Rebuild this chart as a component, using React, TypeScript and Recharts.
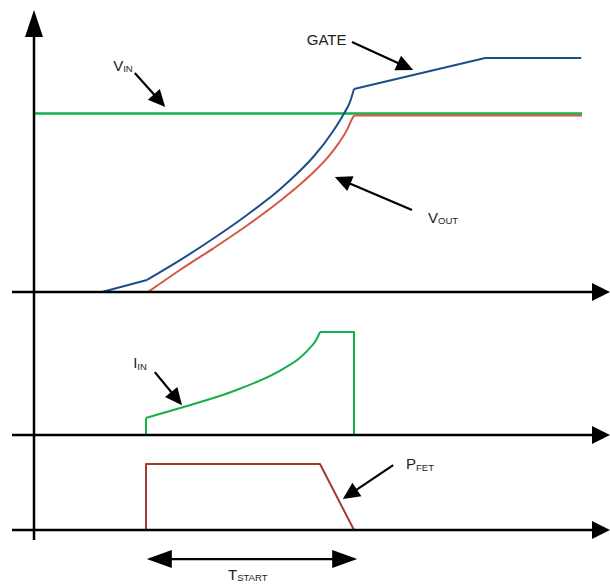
import { ComposedChart, Line, XAxis, YAxis, ReferenceLine, ReferenceDot } from "recharts";

// time in arbitrary units; the soft start runs from t≈14 to t≈40
const vinData = [
  { t: 0, v: 12 },
  { t: 68.5, v: 12 },
];

// gate: slow pre-ramp, curved rise, then linear tail and plateau
const gatePre = [
  { t: 8.5, v: 0 },
  { t: 14.125, v: 0.81 },
];
const gateRise = [
  { t: 14.125, v: 0.81 },
  { t: 18.25, v: 2.14 },
  { t: 22.375, v: 3.58 },
  { t: 26.625, v: 5.18 },
  { t: 30.75, v: 6.91 },
  { t: 33.25, v: 8.15 },
  { t: 34.875, v: 9.06 },
  { t: 37.375, v: 10.81 },
  { t: 38.625, v: 11.89 },
  { t: 39.5, v: 12.78 },
  { t: 40, v: 13.65 },
];
const gateTail = [
  { t: 40, v: 13.65 },
  { t: 56.4, v: 15.73 },
  { t: 68.4, v: 15.73 },
];

const voutRise = [
  { t: 14.25, v: 0 },
  { t: 18.25, v: 1.48 },
  { t: 22.375, v: 2.92 },
  { t: 26.625, v: 4.47 },
  { t: 30.75, v: 6.12 },
  { t: 33.25, v: 7.22 },
  { t: 35.125, v: 8.15 },
  { t: 36.75, v: 9.06 },
  { t: 38, v: 9.94 },
  { t: 39.25, v: 11.03 },
  { t: 39.625, v: 11.5 },
  { t: 40, v: 11.87 },
];
const voutTail = [
  { t: 40, v: 11.87 },
  { t: 68.5, v: 11.87 },
];

const iinStep = [
  { t: 14, i: 0 },
  { t: 14, i: 0.33 },
];
const iinRamp = [
  { t: 14, i: 0.33 },
  { t: 18.6, i: 0.54 },
  { t: 24.9, i: 0.85 },
  { t: 31.1, i: 1.28 },
  { t: 33.25, i: 1.5 },
  { t: 34.5, i: 1.69 },
  { t: 35.25, i: 1.84 },
  { t: 35.75, i: 2.0 },
];
const iinTail = [
  { t: 35.75, i: 2.0 },
  { t: 40, i: 2.0 },
  { t: 40, i: 0 },
];

const pfetData = [
  { t: 14, p: 0 },
  { t: 14, p: 3 },
  { t: 35.75, p: 3 },
  { t: 40, p: 0 },
];

// annotation text and pointer arrows, in the units of each panel
const labels = [
  { main: "GATE", sub: "", axis: "v", at: [34.1, 16.6], from: [39.75, 16.81], to: [47.4, 14.92] },
  { main: "V", sub: "IN", axis: "v", at: [9.9, 14.86], from: [12.6, 14.72], to: [16.4, 12.44] },
  { main: "V", sub: "OUT", axis: "v", at: [49.25, 4.64], from: [47.25, 5.51], to: [37.6, 7.73] },
  { main: "I", sub: "IN", axis: "i", at: [12.4, 1.3], from: [15.1, 1.22], to: [18.5, 0.58] },
  { main: "P", sub: "FET", axis: "p", at: [46.5, 2.77], from: [44.9, 2.95], to: [38.6, 1.41] },
];

const tstart = { from: 14.1, to: 40.4, y: -1.32, labelT: 24.25, labelY: -2.27 };

const W = 610;
const H = 585;
const FONT = '"Liberation Sans", Arial, sans-serif';

const panelDomain = (base: number, ppu: number): [number, number] => [-(H - base) / ppu, base / ppu];

const arrowShape =
  (head: number, half: number, width: number, both = false) =>
  (props: any) => {
    const x1 = Number(props.x1);
    const y1 = Number(props.y1);
    const x2 = Number(props.x2);
    const y2 = Number(props.y2);
    const len = Math.hypot(x2 - x1, y2 - y1) || 1;
    const ux = (x2 - x1) / len;
    const uy = (y2 - y1) / len;
    const px = -uy;
    const py = ux;
    const tri = (tx: number, ty: number, dx: number, dy: number) => {
      const bx = tx - dx * head;
      const by = ty - dy * head;
      return `${tx},${ty} ${bx + px * half},${by + py * half} ${bx - px * half},${by - py * half}`;
    };
    const sx = both ? x1 + ux * (head - 2) : x1;
    const sy = both ? y1 + uy * (head - 2) : y1;
    return (
      <g>
        <line x1={sx} y1={sy} x2={x2 - ux * (head - 2)} y2={y2 - uy * (head - 2)} stroke="#000" strokeWidth={width} />
        <polygon points={tri(x2, y2, ux, uy)} fill="#000" />
        {both && <polygon points={tri(x1, y1, -ux, -uy)} fill="#000" />}
      </g>
    );
  };

const textShape = (main: string, sub: string) => (props: any) => (
  <text x={props.cx} y={props.cy} fontFamily={FONT} fontSize={15} fill="#222">
    <tspan>{main}</tspan>
    {sub && (
      <tspan fontSize={9.5} dy={1.5}>
        {sub}
      </tspan>
    )}
  </text>
);

const seg = (yAxisId: string, data: any[], key: string, color: string, curve: "linear" | "monotone", w = 2) => (
  <Line
    yAxisId={yAxisId}
    data={data}
    dataKey={key}
    type={curve}
    stroke={color}
    strokeWidth={w}
    strokeLinejoin="round"
    dot={false}
    isAnimationActive={false}
  />
);

export default function App() {
  const axisArrow = arrowShape(18, 9, 2.5);
  const noteArrow = arrowShape(17, 8, 2.2);

  return (
    <div style={{ position: "absolute", left: 0, top: 0, background: "#fff" }}>
      <ComposedChart width={W} height={H} margin={{ top: 0, right: 0, bottom: 0, left: 10 }}>
        <XAxis dataKey="t" type="number" domain={[-3, 72]} allowDataOverflow hide />
        <YAxis yAxisId="v" type="number" domain={panelDomain(292, 14.875)} allowDataOverflow hide />
        <YAxis yAxisId="i" type="number" domain={panelDomain(435, 51.5)} allowDataOverflow hide />
        <YAxis yAxisId="p" type="number" domain={panelDomain(530, 22)} allowDataOverflow hide />

        {seg("v", vinData, "v", "#15b04a", "linear", 2.4)}
        {seg("v", voutRise, "v", "#d25a45", "monotone")}
        {seg("v", voutTail, "v", "#d25a45", "linear")}
        {seg("v", gatePre, "v", "#1f4d8b", "linear")}
        {seg("v", gateRise, "v", "#1f4d8b", "monotone")}
        {seg("v", gateTail, "v", "#1f4d8b", "linear")}
        {seg("i", iinStep, "i", "#15b04a", "linear")}
        {seg("i", iinRamp, "i", "#15b04a", "monotone")}
        {seg("i", iinTail, "i", "#15b04a", "linear")}
        {seg("p", pfetData, "p", "#a23a32", "linear")}

        {/* vertical axis through all three panels */}
        <ReferenceLine
          yAxisId="v"
          segment={[
            { x: 0, y: -16.67 },
            { x: 0, y: 18.96 },
          ]}
          shape={arrowShape(27, 9, 2.5)}
        />
        {/* time baselines */}
        {(["v", "i", "p"] as const).map((id) => (
          <ReferenceLine
            key={id}
            yAxisId={id}
            segment={[
              { x: -2.75, y: 0 },
              { x: 72, y: 0 },
            ]}
            shape={axisArrow}
          />
        ))}

        {labels.map((l) => (
          <ReferenceLine
            key={"a" + l.main + l.sub}
            yAxisId={l.axis}
            segment={[
              { x: l.from[0], y: l.from[1] },
              { x: l.to[0], y: l.to[1] },
            ]}
            shape={noteArrow}
          />
        ))}
        {labels.map((l) => (
          <ReferenceDot
            key={"t" + l.main + l.sub}
            yAxisId={l.axis}
            x={l.at[0]}
            y={l.at[1]}
            r={0}
            ifOverflow="visible"
            shape={textShape(l.main, l.sub)}
          />
        ))}

        <ReferenceLine
          yAxisId="p"
          segment={[
            { x: tstart.from, y: tstart.y },
            { x: tstart.to, y: tstart.y },
          ]}
          shape={arrowShape(25, 9, 2.2, true)}
        />
        <ReferenceDot
          yAxisId="p"
          x={tstart.labelT}
          y={tstart.labelY}
          r={0}
          ifOverflow="visible"
          shape={textShape("T", "START")}
        />
      </ComposedChart>
    </div>
  );
}
